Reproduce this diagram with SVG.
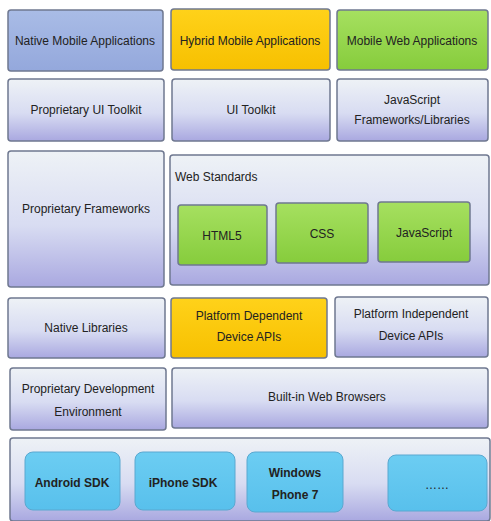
<svg xmlns="http://www.w3.org/2000/svg" width="491" height="521" viewBox="0 0 491 521">
<defs>
<linearGradient id="lav" x1="0" y1="0" x2="0" y2="1">
<stop offset="0" stop-color="#eef2f6"/><stop offset="0.55" stop-color="#d8dcf2"/><stop offset="1" stop-color="#a9a8e0"/>
</linearGradient>
<linearGradient id="blue" x1="0" y1="0" x2="0" y2="1">
<stop offset="0" stop-color="#a9bce6"/><stop offset="1" stop-color="#94a8dc"/>
</linearGradient>
<linearGradient id="yel" x1="0" y1="0" x2="0" y2="1">
<stop offset="0" stop-color="#ffd21a"/><stop offset="1" stop-color="#f7c000"/>
</linearGradient>
<linearGradient id="grn" x1="0" y1="0" x2="0" y2="1">
<stop offset="0" stop-color="#a6e060"/><stop offset="1" stop-color="#86cc3c"/>
</linearGradient>
<linearGradient id="cyan" x1="0" y1="0" x2="0" y2="1">
<stop offset="0" stop-color="#6ccdf2"/><stop offset="1" stop-color="#58c0ec"/>
</linearGradient>
</defs>
<style>
.b{stroke:#6f7890;stroke-width:1.5}
.l{fill:url(#lav)}
.t{font-family:"Liberation Sans",Arial,sans-serif;font-size:12px;fill:#222;text-anchor:middle}
.tb{font-weight:bold}
</style>
<rect width="491" height="521" fill="#ffffff"/>
<g id="native-apps"><rect class="b" x="8" y="10" width="155" height="61" rx="3" fill="url(#blue)"/><text class="t" x="85" y="45">Native Mobile Applications</text></g>
<g id="hybrid-apps"><rect class="b" x="171" y="9" width="159" height="61" rx="3" fill="url(#yel)"/><text class="t" x="250" y="45">Hybrid Mobile Applications</text></g>
<g id="web-apps"><rect class="b" x="337" y="10" width="151" height="60" rx="3" fill="url(#grn)"/><text class="t" x="412" y="45">Mobile Web Applications</text></g>

<g id="prop-ui"><rect class="b l" x="8" y="79" width="156" height="62" rx="3"/><text class="t" x="86" y="114">Proprietary UI Toolkit</text></g>
<g id="ui-toolkit"><rect class="b l" x="172" y="79" width="158" height="62" rx="3"/><text class="t" x="251" y="114">UI Toolkit</text></g>
<g id="js-frameworks"><rect class="b l" x="337" y="79" width="151" height="62" rx="3"/><text class="t" x="412" y="104">JavaScript</text><text class="t" x="412" y="124">Frameworks/Libraries</text></g>

<g id="prop-frameworks"><rect class="b l" x="8" y="151" width="156" height="136" rx="3"/><text class="t" x="86" y="213">Proprietary Frameworks</text></g>
<g id="web-standards"><rect class="b l" x="170" y="155" width="319" height="130" rx="3"/><text class="t" x="175" y="181" text-anchor="start" style="text-anchor:start">Web Standards</text></g>
<g id="html5"><rect class="b" x="178" y="205" width="89" height="60" rx="3" fill="url(#grn)"/><text class="t" x="222" y="240">HTML5</text></g>
<g id="css"><rect class="b" x="276" y="203" width="92" height="60" rx="3" fill="url(#grn)"/><text class="t" x="322" y="238">CSS</text></g>
<g id="javascript"><rect class="b" x="378" y="202" width="92" height="60" rx="3" fill="url(#grn)"/><text class="t" x="424" y="237">JavaScript</text></g>

<g id="native-libs"><rect class="b l" x="8" y="298" width="157" height="60" rx="3"/><text class="t" x="86" y="332">Native Libraries</text></g>
<g id="platform-dep"><rect class="b" x="171" y="298" width="156" height="60" rx="3" fill="url(#yel)"/><text class="t" x="249" y="320">Platform Dependent</text><text class="t" x="249" y="341">Device APIs</text></g>
<g id="platform-indep"><rect class="b l" x="335" y="297" width="153" height="60" rx="3"/><text class="t" x="411" y="318">Platform Independent</text><text class="t" x="411" y="340">Device APIs</text></g>

<g id="prop-dev-env"><rect class="b l" x="10" y="368" width="156" height="62" rx="3"/><text class="t" x="88" y="393">Proprietary Development</text><text class="t" x="88" y="416">Environment</text></g>
<g id="web-browsers"><rect class="b l" x="172" y="368" width="316" height="60" rx="3"/><text class="t" x="268" y="401" style="text-anchor:start">Built-in Web Browsers</text></g>

<g id="sdk-layer"><rect class="b l" x="10" y="438" width="480" height="83" rx="3"/></g>
<g id="android"><rect x="25" y="452" width="95" height="58" rx="8" fill="url(#cyan)" stroke="#5aa8d0" stroke-width="1"/><text class="t tb" x="72" y="487">Android SDK</text></g>
<g id="iphone"><rect x="135" y="452" width="100" height="58" rx="8" fill="url(#cyan)" stroke="#5aa8d0" stroke-width="1"/><text class="t tb" x="183" y="487">iPhone SDK</text></g>
<g id="windows"><rect x="247" y="452" width="96" height="60" rx="8" fill="url(#cyan)" stroke="#5aa8d0" stroke-width="1"/><text class="t tb" x="295" y="477">Windows</text><text class="t tb" x="295" y="499">Phone 7</text></g>
<g id="more"><rect x="388" y="455" width="99" height="56" rx="8" fill="url(#cyan)" stroke="#5aa8d0" stroke-width="1"/><text class="t" x="437" y="489">……</text></g>
<g id="connectors"></g>
</svg>
